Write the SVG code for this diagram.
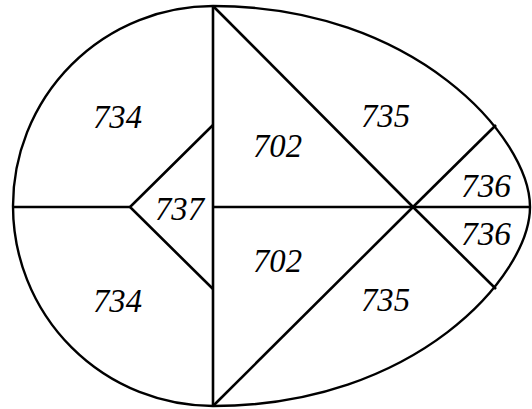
<svg xmlns="http://www.w3.org/2000/svg" width="532" height="409" viewBox="0 0 532 409">
<style>
.l{fill:none;stroke:#000;stroke-width:2.6;stroke-linecap:butt}
.o{fill:none;stroke:#000;stroke-width:2.4}
text{font-family:"Liberation Serif","Times New Roman",serif;font-style:italic;font-size:34px;fill:#000}
</style>
<rect width="532" height="409" fill="#fff"/>
<g id="outline">
<path class="o" d="M213,6 A200,200 0 0 0 213,406 C415,406 530,276 530,207 C530,138 415,6 213,6 Z"/>
</g>
<g id="lines">
<line class="l" x1="213" y1="6" x2="213" y2="406"/>
<line class="l" x1="13" y1="207" x2="131" y2="207"/>
<line class="l" x1="213" y1="207" x2="530" y2="207"/>
<line class="l" x1="213" y1="6" x2="413" y2="207"/>
<line class="l" x1="213" y1="406" x2="413" y2="207"/>
<line class="l" x1="413" y1="207" x2="496" y2="125"/>
<line class="l" x1="413" y1="207" x2="496" y2="289"/>
<polyline class="l" points="213,125 130,207 213,289"/>
</g>
<g id="labels">
<text x="93" y="128" textLength="49" lengthAdjust="spacingAndGlyphs">734</text>
<text x="93" y="312" textLength="49" lengthAdjust="spacingAndGlyphs">734</text>
<text x="155" y="220" textLength="49" lengthAdjust="spacingAndGlyphs">737</text>
<text x="253" y="157" textLength="49" lengthAdjust="spacingAndGlyphs">702</text>
<text x="253" y="272" textLength="49" lengthAdjust="spacingAndGlyphs">702</text>
<text x="361" y="127" textLength="49" lengthAdjust="spacingAndGlyphs">735</text>
<text x="361" y="311" textLength="49" lengthAdjust="spacingAndGlyphs">735</text>
<text x="461" y="197" textLength="50" lengthAdjust="spacingAndGlyphs">736</text>
<text x="461" y="245" textLength="50" lengthAdjust="spacingAndGlyphs">736</text>
</g>
</svg>
